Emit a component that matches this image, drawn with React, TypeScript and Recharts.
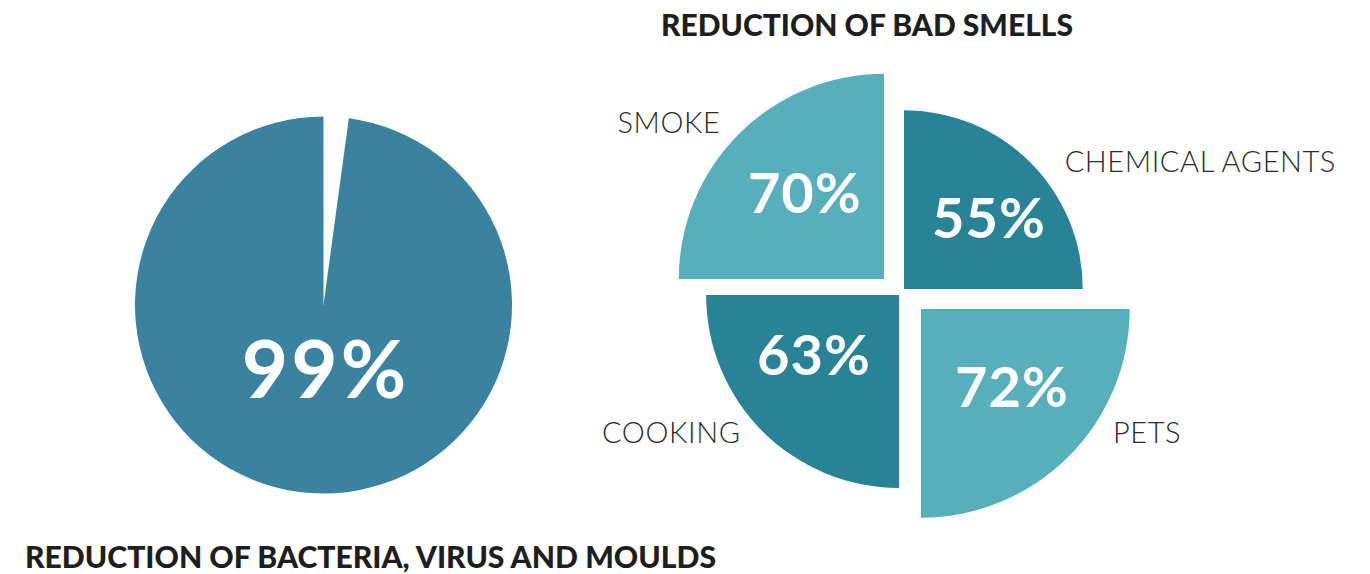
import { PieChart, Pie, Cell } from "recharts";

// left chart
const bacteriaReduction = 99;
const bacteriaRemaining = 100 - bacteriaReduction;

// right chart
const smellCategories = ["SMOKE", "CHEMICAL AGENTS", "COOKING", "PETS"];
const smellValues = [70, 55, 63, 72];

const titleSmells = "REDUCTION OF BAD SMELLS";
const titleBacteria = "REDUCTION OF BACTERIA, VIRUS AND MOULDS";

const PIE_BLUE = "#3a83a0";
const DARK = "#298396";
const LIGHT = "#57afbb";
const INK = "#2a2a2a";
const FONT = "Lato, 'Open Sans', sans-serif";

// radius of each quadrant grows with its reduction value
const smellRadius = (v: number) => 82 + 1.76 * v;

// where each quadrant sits and where its labels go
const quadrants: Record<string, any> = {
  SMOKE: { cx: 884, cy: 279, start: 90, end: 180, fill: LIGHT, nameAngle: 136.4, nameDist: 1.1, anchor: "end", valAngle: 132.6, valDist: 0.57 },
  "CHEMICAL AGENTS": { cx: 904, cy: 289, start: 0, end: 90, fill: DARK, nameAngle: 38.3, nameDist: 1.145, anchor: "start", valAngle: 39.9, valDist: 0.62 },
  COOKING: { cx: 899, cy: 295, start: 180, end: 270, fill: DARK, nameAngle: 221.1, nameDist: 1.09, anchor: "end", valAngle: 215.2, valDist: 0.54 },
  PETS: { cx: 921, cy: 309, start: 270, end: 360, fill: LIGHT, nameAngle: 327.1, nameDist: 1.095, anchor: "start", valAngle: 319.4, valDist: 0.574 },
};

const RAD = Math.PI / 180;
const polar = (cx: number, cy: number, r: number, a: number) => ({
  x: cx + r * Math.cos(a * RAD),
  y: cy - r * Math.sin(a * RAD),
});

const bacteriaData = [
  { name: "rest", value: bacteriaRemaining },
  { name: "reduction", value: bacteriaReduction },
];

function QuadrantLabel(props: any) {
  const { cx, cy, outerRadius, name, value } = props;
  const q = quadrants[name];
  const n = polar(cx, cy, outerRadius * q.nameDist, q.nameAngle);
  const v = polar(cx, cy, outerRadius * q.valDist, q.valAngle);
  return (
    <g>
      <text x={n.x} y={n.y + 10} textAnchor={q.anchor} fill={INK} fontFamily={FONT} fontWeight={300} fontSize={29} letterSpacing={0.6}>
        {name}
      </text>
      <text x={v.x} y={v.y + 20} textAnchor="middle" fill="#fff" fontFamily={FONT} fontWeight={700} fontSize={56} letterSpacing={1}>
        {value}%
      </text>
    </g>
  );
}

function BacteriaLabel(props: any) {
  const { cx, cy, outerRadius, name, value } = props;
  if (name !== "reduction") return null;
  return (
    <text x={cx + 2} y={cy + outerRadius * 0.345 + 28} textAnchor="middle" fill="#fff" fontFamily={FONT} fontWeight={700} fontSize={80} letterSpacing={3}>
      {value}%
    </text>
  );
}

export default function App() {
  return (
    <div style={{ position: "absolute", left: 0, top: 0, width: 1370, height: 574, background: "#fff" }}>
      <PieChart width={1370} height={574} margin={{ top: 0, right: 0, bottom: 0, left: 0 }}>
        <Pie
          data={bacteriaData}
          dataKey="value"
          nameKey="name"
          cx={323.5}
          cy={305}
          outerRadius={188.5}
          startAngle={90}
          endAngle={-270}
          minAngle={4.2}
          stroke="none"
          labelLine={false}
          label={BacteriaLabel}
          isAnimationActive={false}
        >
          <Cell fill="#fff" />
          <Cell fill={PIE_BLUE} />
        </Pie>
        {smellCategories.map((name, i) => {
          const q = quadrants[name];
          return (
            <Pie
              key={name}
              data={[{ name, value: smellValues[i] }]}
              dataKey="value"
              nameKey="name"
              cx={q.cx}
              cy={q.cy}
              outerRadius={smellRadius(smellValues[i])}
              startAngle={q.start}
              endAngle={q.end}
              fill={q.fill}
              stroke="none"
              labelLine={false}
              label={QuadrantLabel}
              isAnimationActive={false}
            />
          );
        })}
      </PieChart>
      <svg width={1370} height={574} style={{ position: "absolute", left: 0, top: 0, pointerEvents: "none" }}>
        <text x={661} y={36} fill="#1e1e1e" fontFamily={FONT} fontWeight={900} fontSize={31} textLength={412} lengthAdjust="spacingAndGlyphs">
          {titleSmells}
        </text>
        <text x={25} y={568} fill="#1e1e1e" fontFamily={FONT} fontWeight={900} fontSize={30} textLength={691} lengthAdjust="spacingAndGlyphs">
          {titleBacteria}
        </text>
      </svg>
    </div>
  );
}
